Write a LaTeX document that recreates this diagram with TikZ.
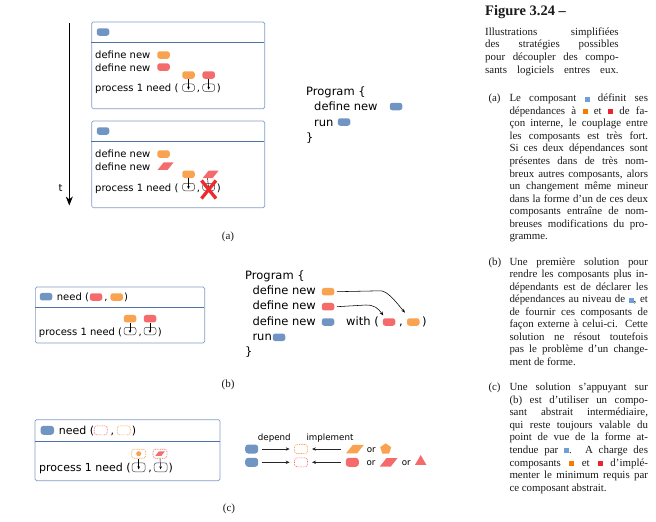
\documentclass[tikz,border=0pt]{standalone}
\usepackage{fontspec}
\setmainfont{DejaVu Sans}
\newfontfamily\capfont{Liberation Serif}
\usetikzlibrary{arrows.meta,shapes.geometric}
\definecolor{cblue}{HTML}{7095C3}
\definecolor{corange}{HTML}{F9A24F}
\definecolor{cred}{HTML}{F56B6B}
\definecolor{boxedge}{HTML}{7F9BC6}
\definecolor{sepline}{HTML}{4E72A6}
\definecolor{sqblue}{HTML}{6F9FD8}
\definecolor{sqorange}{HTML}{F57C00}
\definecolor{sqred}{HTML}{EE2233}
\definecolor{crossred}{HTML}{EE2A30}
\definecolor{captext}{HTML}{1A1A1A}
\tikzset{
  chip/.style={rectangle,rounded corners=2.5pt,minimum width=12.5pt,minimum height=7.5pt,inner sep=0pt},
  slot/.style={rectangle,rounded corners=2.5pt,draw=black!75,line width=.5pt,fill=white,minimum width=12pt,minimum height=7.5pt,inner sep=0pt},
  dashchip/.style={rectangle,rounded corners=2.5pt,dash pattern=on .9pt off .8pt,line width=.6pt,fill=white,minimum width=13pt,minimum height=9pt,inner sep=0pt},
  slant/.style={rectangle,xslant=.8,transform shape,minimum width=10pt,minimum height=7.5pt,inner sep=0pt},
  compbox/.style={rectangle,rounded corners=1.5pt,draw=boxedge,line width=.7pt,inner sep=0pt,anchor=north west},
  txt/.style={anchor=base west,inner sep=0pt,font=\fontsize{10}{12}\selectfont},
  bigtxt/.style={anchor=base west,inner sep=0pt,font=\fontsize{11.5}{13}\selectfont},
  midtxt/.style={anchor=base west,inner sep=0pt,font=\fontsize{11}{13}\selectfont},
  smalltxt/.style={anchor=base,inner sep=0pt,font=\fontsize{8.7}{10}\selectfont},
  punct/.style={anchor=base,inner sep=0pt,font=\fontsize{10}{12}\selectfont},
  bigpunct/.style={anchor=base,inner sep=0pt,font=\fontsize{11.5}{13}\selectfont},
  midpunct/.style={anchor=base,inner sep=0pt,font=\fontsize{11}{13}\selectfont},
  capline/.style={anchor=base west,inner sep=0pt,text=captext,font=\capfont\fontsize{10.9}{12}\selectfont},
  sublabel/.style={anchor=base,inner sep=0pt,text=captext,font=\capfont\fontsize{11}{12}\selectfont},
  drop/.style={-{Stealth[length=3pt,width=2.6pt]},line width=.45pt,black},
  flow/.style={-{Stealth[length=4pt,width=3.4pt]},line width=.6pt,black!85},
  curvearrow/.style={-{Stealth[length=4pt,width=3pt]},line width=.55pt,black},
}
\newcounter{cl}
\newcommand\itemline[3]{\stepcounter{cl}\node[capline] (cl\thecl) at (#1,#2) {\hbox to 138.5pt{#3}};}
\newcommand\headline[3]{\stepcounter{cl}\node[capline] (cl\thecl) at (#1,#2) {\hbox to 133.5pt{#3}};}
\newcommand\sq[1]{\textcolor{#1}{\rule{5pt}{5pt}}}
\newcommand\vchip[5][]{\node[chip,fill=#5,#1] (#2) at (#3,#4) {};}
\begin{document}
\begin{tikzpicture}[x=1pt,y=-1pt]
\useasboundingbox (0,0) rectangle (656,522);

% ---------- (a) time arrow
\coordinate (tstart) at (69.3,23.3);
\coordinate (tend) at (69.3,205.5);
\draw[-{Stealth[length=9pt,width=7pt]},line width=.7pt] (tstart) -- (tend);
\node[txt] (tlabel) at (58.5,191) {t};

% ---------- (a) box 1
\node[compbox,minimum width=173pt,minimum height=86.6pt] (boxA) at (91.3,21.7) {};
\coordinate (boxAsepL) at (91.3,42.3);
\coordinate (boxAsepR) at (264.3,42.3);
\draw[sepline,line width=.6pt] (boxAsepL) -- (boxAsepR);
\vchip{aBlue}{103}{32}{cblue}
\node[txt] (aD1) at (95,58.7) {define new};
\vchip{aOr}{163.5}{55}{corange}
\node[txt] (aD2) at (95,71) {define new};
\vchip{aRed}{163.5}{67}{cred}
\node[txt] (aP) at (95,91.7) {process 1 need (};
\vchip{aTopO}{188.5}{75}{corange}
\vchip{aTopR}{208.7}{75}{cred}
\node[slot] (aSlotO) at (188.5,87.7) {};
\node[slot] (aSlotR) at (208.7,87.7) {};
\node[punct] (aComma) at (198.4,91.7) {,};
\node[punct] (aClose) at (218.7,91.7) {)};
\draw[drop] (aTopO.south) -- ([yshift=-2pt]aSlotO.center);
\draw[drop] (aTopR.south) -- ([yshift=-2pt]aSlotR.center);

% ---------- (a) box 2
\node[compbox,minimum width=173pt,minimum height=86.6pt] (boxB) at (91.3,120.7) {};
\coordinate (boxBsepL) at (91.3,141.3);
\coordinate (boxBsepR) at (264.3,141.3);
\draw[sepline,line width=.6pt] (boxBsepL) -- (boxBsepR);
\vchip{bBlue}{103}{131}{cblue}
\node[txt] (bD1) at (95,157.7) {define new};
\vchip{bOr}{163.5}{154}{corange}
\node[txt] (bD2) at (95,170) {define new};
\node[slant,fill=cred] (bRed) at (165.7,166) {};
\node[txt] (bP) at (95,191.3) {process 1 need (};
\vchip{bTopO}{188.5}{174.3}{corange}
\node[slant,fill=cred] (bTopR) at (210.7,174.3) {};
\node[slot] (bSlotO) at (188.5,187) {};
\node[slot] (bSlotR) at (208.7,187) {};
\node[punct] (bComma) at (198.4,191.3) {,};
\node[punct] (bClose) at (218.7,191.3) {)};
\draw[drop] (bTopO.south) -- ([yshift=-2pt]bSlotO.center);
\draw[drop] (bTopR.south) -- ([yshift=-2pt]bSlotR.center);
\coordinate (xA) at (201.5,180.5);
\coordinate (xB) at (216,198.5);
\coordinate (xC) at (216,180.5);
\coordinate (xD) at (201.5,198.5);
\draw[crossred,line width=3.3pt] (xA) -- (xB) (xC) -- (xD);

% ---------- (a) program
\node[bigtxt] (pA0) at (306,95) {Program \{};
\node[bigtxt] (pA1) at (314,110.5) {define new};
\vchip{pAb1}{396}{106.5}{cblue}
\node[bigtxt] (pA2) at (314,126) {run};
\vchip{pAb2}{344}{122}{cblue}
\node[bigtxt] (pA3) at (306,141) {\}};
\node[sublabel] (subA) at (228,239) {(a)};

% ---------- (b) box
\node[compbox,minimum width=169.3pt,minimum height=56pt] (boxC) at (35,286.7) {};
\coordinate (boxCsepL) at (35,307.3);
\coordinate (boxCsepR) at (204.3,307.3);
\draw[sepline,line width=.6pt] (boxCsepL) -- (boxCsepR);
\vchip{cBlue}{46}{296.7}{cblue}
\node[txt] (cN) at (56.7,300.5) {need (};
\vchip{cHR}{96}{297}{cred}
\node[punct] (cC1) at (106,300.5) {,};
\vchip{cHO}{116.7}{297}{corange}
\node[punct] (cC2) at (126,300.5) {)};
\node[txt] (cP) at (38.7,335) {process 1 need (};
\vchip{cTopO}{130}{318.7}{corange}
\vchip{cTopR}{150}{318.7}{cred}
\node[slot] (cSlotO) at (130,331) {};
\node[slot] (cSlotR) at (150,331) {};
\node[punct] (cComma) at (140.3,335) {,};
\node[punct] (cClose) at (159.7,335) {)};
\draw[drop] (cTopO.south) -- ([yshift=-2pt]cSlotO.center);
\draw[drop] (cTopR.south) -- ([yshift=-2pt]cSlotR.center);

% ---------- (b) program
\node[bigtxt] (pB0) at (245,279) {Program \{};
\node[bigtxt] (pB1) at (252.3,294.3) {define new};
\vchip{pBo}{328}{291.7}{corange}
\node[bigtxt] (pB2) at (252.3,309.7) {define new};
\vchip{pBr}{328}{306.7}{cred}
\node[bigtxt] (pB3) at (252.3,325) {define new};
\vchip{pBb}{328}{322}{cblue}
\node[bigtxt] (pB4) at (252.3,340.3) {run};
\vchip{pBb2}{279}{337.3}{cblue}
\node[bigtxt] (pB5) at (245,355) {\}};
\node[bigtxt] (pBw) at (346,325) {with (};
\vchip{pBwr}{389}{322}{cred}
\node[bigpunct] (pBc) at (401,325) {,};
\vchip{pBwo}{413.3}{322}{corange}
\node[bigpunct] (pBe) at (424.3,325) {)};
\coordinate (arrOb) at (381,290.8);
\coordinate (arrOe) at (405,312.7);
\coordinate (arrRb) at (366,305);
\coordinate (arrRe) at (383.3,315.5);
\draw[curvearrow] ([xshift=2.5pt]pBo.east) -- (arrOb) .. controls (388,291.5) and (396,302) .. (arrOe);
\draw[curvearrow] ([xshift=2.5pt]pBr.east) -- (arrRb) .. controls (374,305) and (378,308) .. (arrRe);
\node[sublabel] (subB) at (228,387) {(b)};

% ---------- (c) box
\node[compbox,minimum width=185pt,minimum height=61pt] (boxD) at (34.7,419.3) {};
\coordinate (boxDsepL) at (34.7,441.3);
\coordinate (boxDsepR) at (219.7,441.3);
\draw[sepline,line width=.6pt] (boxDsepL) -- (boxDsepR);
\node[chip,fill=cblue,minimum width=13.5pt,minimum height=9pt,rounded corners=3pt] (dBlue) at (47.3,430.3) {};
\node[midtxt] (dN) at (58.7,434.5) {need (};
\node[dashchip,draw=cred] (dHR) at (100.7,430.3) {};
\node[midpunct] (dC1) at (112.3,434.5) {,};
\node[dashchip,draw=corange] (dHO) at (123.7,430.3) {};
\node[midpunct] (dC2) at (134,434.5) {)};
\node[midtxt] (dP) at (39,471.3) {process 1 need (};
\node[dashchip,draw=corange,minimum width=14pt] (dTopO) at (138.7,453.7) {};
\node[circle,fill=corange,minimum size=5pt,inner sep=0pt] (dTopOi) at (138.7,453.7) {};
\node[dashchip,draw=cred,minimum width=14pt] (dTopR) at (160,453.7) {};
\node[rectangle,xslant=.8,transform shape,fill=cred,minimum width=6pt,minimum height=4.5pt,inner sep=0pt] (dTopRi) at (160,453.7) {};
\node[slot,minimum width=13pt,minimum height=9pt] (dSlotO) at (138.7,467.3) {};
\node[slot,minimum width=13pt,minimum height=9pt] (dSlotR) at (160.7,467.3) {};
\node[midpunct] (dComma) at (150,471.3) {,};
\node[midpunct] (dClose) at (170.7,471.3) {)};
\draw[drop] (dTopO.south) -- ([yshift=-2pt]dSlotO.center);
\draw[drop] (dTopR.south) -- ([yshift=-2pt]dSlotR.center);
\node[sublabel] (subC) at (229,511) {(c)};

% ---------- (c) legend
\node[smalltxt] (lDep) at (274.3,440.5) {depend};
\node[smalltxt] (lImp) at (330,440.5) {implement};
\node[chip,fill=cblue,minimum width=13pt,minimum height=9pt,rounded corners=3pt] (l1b) at (251.7,449) {};
\node[dashchip,draw=corange] (l1d) at (301,449) {};
\node[slant,fill=corange,minimum width=11pt,minimum height=8.5pt] (l1p) at (355,449) {};
\node[smalltxt] (l1or) at (371.3,452) {or};
\node[regular polygon,regular polygon sides=5,fill=corange,minimum size=11.5pt,inner sep=0pt] (l1pent) at (385.7,449) {};
\draw[flow,shorten <=3.5pt,shorten >=4.5pt] (l1b) -- (l1d);
\draw[flow,shorten <=8pt,shorten >=4.2pt] (l1p) -- (l1d);
\node[chip,fill=cblue,minimum width=13pt,minimum height=9pt,rounded corners=3pt] (l2b) at (251.7,462.3) {};
\node[dashchip,draw=cred] (l2d) at (301,462.3) {};
\node[chip,fill=cred,minimum width=13pt,minimum height=9pt,rounded corners=3pt] (l2r) at (352.3,462.3) {};
\node[smalltxt] (l2or1) at (371,465.3) {or};
\node[slant,fill=cred,minimum width=11pt,minimum height=8.5pt] (l2p) at (388.7,462.3) {};
\node[smalltxt] (l2or2) at (406.3,465.3) {or};
\node[regular polygon,regular polygon sides=3,fill=cred,minimum size=13pt,inner sep=0pt] (l2tri) at (420.7,461.5) {};
\draw[flow,shorten <=3.5pt,shorten >=4.5pt] (l2b) -- (l2d);
\draw[flow,shorten <=4.8pt,shorten >=4.2pt] (l2r) -- (l2d);

% ---------- caption
\node[anchor=base west,inner sep=0pt,text=captext,font=\capfont\bfseries\fontsize{14.5}{16}\selectfont] (capTitle) at (485,15) {Figure 3.24 –};
\headline{485}{35.3}{Illustrations \hfill simplifiées}
\headline{485}{47.9}{des \hfill stratégies \hfill possibles}
\headline{485}{60.5}{pour découpler des compo-}
\headline{485}{73.1}{sants \hfill logiciels \hfill entres \hfill eux.}

\node[capline] (itemA) at (488.3,101.7) {(a)};
\itemline{509.3}{101.7}{Le composant \sq{sqblue} définit ses}
\itemline{509.3}{114.2}{dépendances à \sq{sqorange} et \sq{sqred} de fa-}
\itemline{509.3}{126.8}{çon interne, le couplage entre}
\itemline{509.3}{139.3}{les composants est très fort.}
\itemline{509.3}{151.9}{Si ces deux dépendances sont}
\itemline{509.3}{164.4}{présentes dans de très nom-}
\itemline{509.3}{177}{breux autres composants, alors}
\itemline{509.3}{189.5}{un changement même mineur}
\itemline{509.3}{202.1}{dans la forme d’un de ces deux}
\itemline{509.3}{214.6}{composants entraîne de nom-}
\itemline{509.3}{227.2}{breuses modifications du pro-}
\itemline{509.3}{239.7}{gramme.\hfill}

\node[capline] (itemB) at (488.3,265) {(b)};
\itemline{509.3}{265}{Une première solution pour}
\itemline{509.3}{277.5}{rendre les composants plus in-}
\itemline{509.3}{290.1}{dépendants est de déclarer les}
\itemline{509.3}{302.6}{dépendances au niveau de \sq{sqblue}, et}
\itemline{509.3}{315.2}{de fournir ces composants de}
\itemline{509.3}{327.7}{façon externe à celui-ci. Cette}
\itemline{509.3}{340.3}{solution ne résout toutefois}
\itemline{509.3}{352.8}{pas le problème d’un change-}
\itemline{509.3}{365.4}{ment de forme.\hfill}

\node[capline] (itemC) at (488.3,390.7) {(c)};
\itemline{509.3}{390.7}{Une solution s’appuyant sur}
\itemline{509.3}{403.2}{(b) est d’utiliser un compo-}
\itemline{509.3}{415.8}{sant abstrait intermédiaire,}
\itemline{509.3}{428.3}{qui reste toujours valable du}
\itemline{509.3}{440.9}{point de vue de la forme at-}
\itemline{509.3}{453.4}{tendue par \sq{sqblue}. A charge des}
\itemline{509.3}{466}{composants \sq{sqorange} et \sq{sqred} d’implé-}
\itemline{509.3}{478.5}{menter le minimum requis par}
\itemline{509.3}{491.1}{ce composant abstrait.\hfill}
\end{tikzpicture}
\end{document}
